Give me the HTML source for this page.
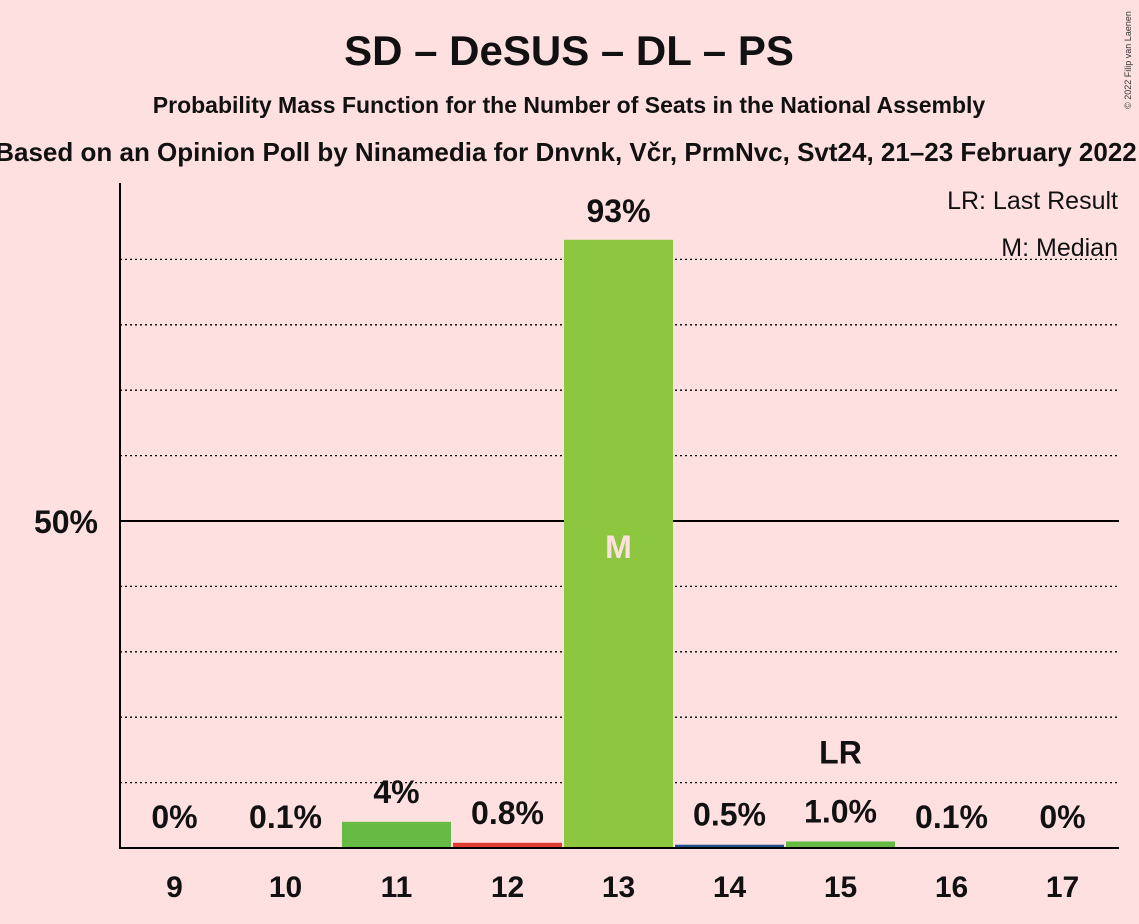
<!DOCTYPE html>
<html><head><meta charset="utf-8"><style>
body{margin:0;background:#ffe0e0;}
svg{display:block;font-family:"Liberation Sans",sans-serif;}
</style></head><body>
<svg id="chart" width="1139" height="924">
<rect width="1139" height="924" fill="#ffe0e0"/>
<text x="569" y="65" text-anchor="middle" font-size="42" font-weight="bold" fill="#111">SD – DeSUS – DL – PS</text>
<text x="569" y="113" text-anchor="middle" font-size="23" font-weight="bold" fill="#111">Probability Mass Function for the Number of Seats in the National Assembly</text>
<text x="566" y="161" text-anchor="middle" font-size="26" font-weight="bold" fill="#111">Based on an Opinion Poll by Ninamedia for Dnvnk, Včr, PrmNvc, Svt24, 21–23 February 2022</text>
<text x="1131" y="60" font-size="9" fill="#333" transform="rotate(-90 1131 60)" text-anchor="middle">© 2022 Filip van Laenen</text>
<text x="1118" y="209" text-anchor="end" font-size="25" fill="#111">LR: Last Result</text>
<text x="1118" y="256" text-anchor="end" font-size="25" fill="#111">M: Median</text>
<g id="grid"></g>
<g id="bars"></g>
<line x1="120" y1="183" x2="120" y2="849" stroke="#000" stroke-width="2"/>
<line x1="119" y1="848" x2="1119" y2="848" stroke="#000" stroke-width="2"/>
<text x="98" y="533" text-anchor="end" font-size="32" font-weight="bold" fill="#111">50%</text>
</svg>
<script>
const categories=[9,10,11,12,13,14,15,16,17];
const values=[0,0.1,4,0.8,93,0.5,1.0,0.1,0];
const labels=["0%","0.1%","4%","0.8%","93%","0.5%","1.0%","0.1%","0%"];
const colors=["#8dc63f","#8dc63f","#66bb44","#e03c31","#8dc63f","#1f4e8c","#66bb44","#8dc63f","#8dc63f"];
const median=13, lastResult=15;
const NS="http://www.w3.org/2000/svg";
const y=v=>848-v*6.54;
const x=i=>119+111*i;
const bw=109;
const grid=document.getElementById('grid'), bars=document.getElementById('bars');
function mk(tag,attrs,parent){const e=document.createElementNS(NS,tag);for(const k in attrs)e.setAttribute(k,attrs[k]);parent.appendChild(e);return e;}
for(let p=10;p<=90;p+=10){
  const l=mk('line',{x1:120,x2:1119,y1:y(p),y2:y(p),stroke:'#000','stroke-width':p==50?2:1.3,'stroke-dasharray':p==50?'none':'2,3'},grid);
  
  
}
categories.forEach((c,i)=>{
  const cx=x(i)+55.5;
  if(values[i]>0){
    const r=mk('rect',{x:x(i)+1,y:y(values[i]),width:bw,height:848-y(values[i]),fill:colors[i]},bars);
    
    
  }
  const big=values[i]>50;
  const t=mk('text',{x:cx,y:big?y(values[i])-18:Math.min(y(values[i])-19,828),'text-anchor':'middle','font-size':32,'font-weight':'bold',fill:'#111'},bars);
  t.textContent=labels[i];
  
  
  const xt=mk('text',{x:cx,y:897,'text-anchor':'middle','font-size':30,'font-weight':'bold',fill:'#111'},bars);
  xt.textContent=c;
  
  
  if(c===median){
    const m=mk('text',{x:cx,y:(y(values[i])+848)/2+14,'text-anchor':'middle','font-size':32,'font-weight':'bold',fill:'#ffe0e0'},bars);
    m.textContent='M';
    
    
  }
  if(c===lastResult){
    const lr=mk('text',{x:cx,y:y(values[i])-78,'text-anchor':'middle','font-size':32,'font-weight':'bold',fill:'#111'},bars);
    lr.textContent='LR';
    
    
  }
});
</script>
</body></html>
